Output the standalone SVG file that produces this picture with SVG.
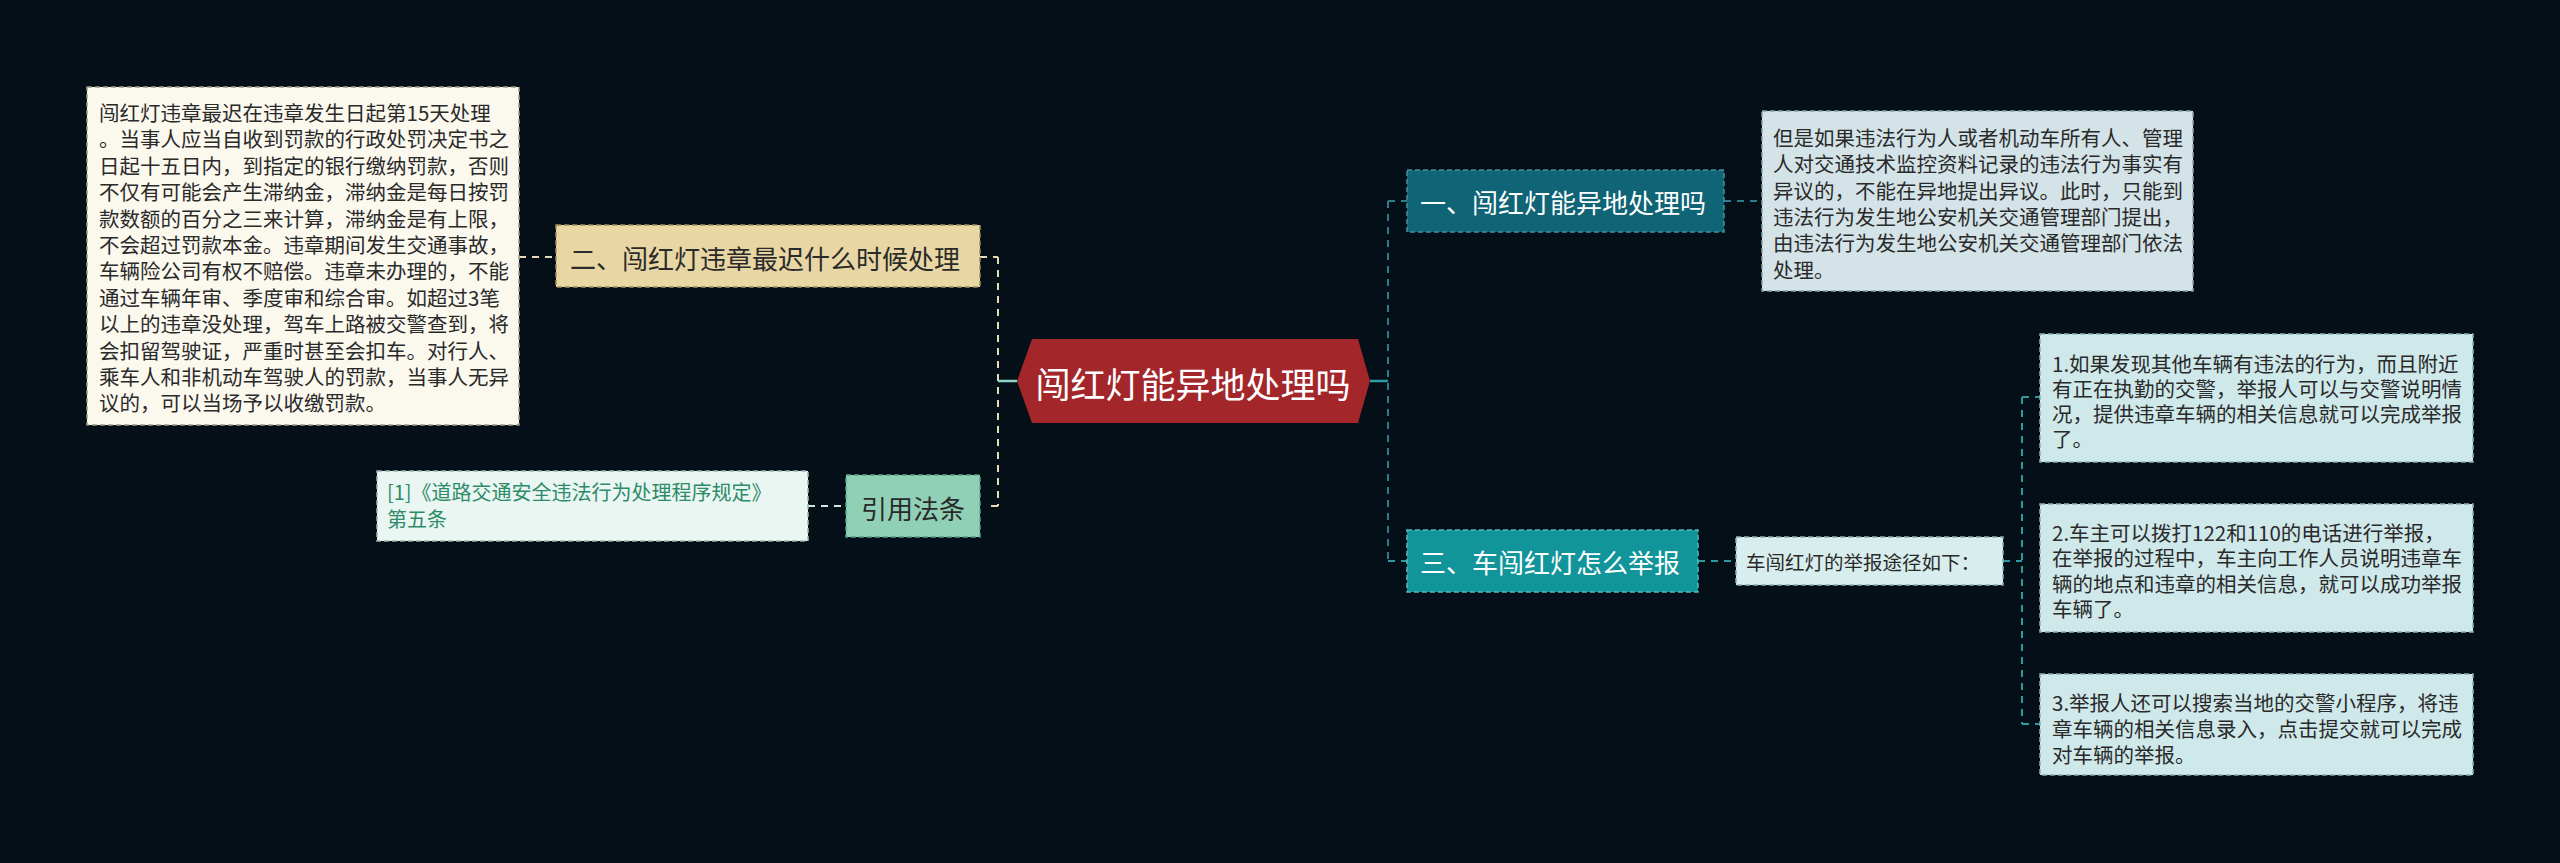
<svg xmlns="http://www.w3.org/2000/svg" width="2560" height="863" viewBox="0 0 2560 863">
<style>
text{font-family:"Noto Sans CJK SC","Noto Sans",sans-serif;dominant-baseline:central}
.box{stroke-dasharray:5 3;stroke-width:1.5}
.t20{font-size:20.5px;fill:#2a2a2a}
.t26{font-size:26px}
.con{fill:none;stroke-width:2;stroke-dasharray:7 6}
</style>
<rect width="2560" height="863" fill="#050f17"/>
<g id="connectors">
<path class="con" stroke="#e6dcb4" d="M998 257 V506 M980 257 H998 M998 506 H985 M519 257 H555"/>
<path class="con" stroke="#cde8de" d="M808 506 H846"/>
<path d="M1017 381 H998" stroke="#8fd6c6" stroke-width="2.5" fill="none"/>
<path d="M1370 381 H1388" stroke="#2a9ea6" stroke-width="2.5" fill="none"/>
<path class="con" stroke="#2b7d8c" d="M1388 201 V561 M1388 201 H1407 M1724 201 H1762"/>
<path class="con" stroke="#2a9a9e" d="M1388 561 H1407 M1698 561 H1736 M2003 561 H2022 M2022 397 V724 M2022 397 H2040 M2022 724 H2040"/>
</g>
<g id="center">
<polygon points="1017,381 1032,339 1358,339 1370,381 1358,423 1032,423" fill="#a3262b"/>
<text x="1193" y="382" font-size="35" fill="#ffffff" text-anchor="middle">闯红灯能异地处理吗</text>
</g>
<g id="n2">
<rect class="box" x="556" y="225" width="424" height="62" fill="#e8d6a4" stroke="#9e8c5c"/>
<text class="t26" x="570" y="257" fill="#2a2a2a">二、闯红灯违章最迟什么时候处理</text>
</g>
<g id="n2note">
<rect class="box" x="87" y="87" width="432" height="338" fill="#fbf8ee" stroke="#a09a88"/>
<g class="t20">
<text x="99" y="112">闯红灯违章最迟在违章发生日起第15天处理</text>
<text x="99" y="138.4">。当事人应当自收到罚款的行政处罚决定书之</text>
<text x="99" y="164.8">日起十五日内，到指定的银行缴纳罚款，否则</text>
<text x="99" y="191.2">不仅有可能会产生滞纳金，滞纳金是每日按罚</text>
<text x="99" y="217.6">款数额的百分之三来计算，滞纳金是有上限，</text>
<text x="99" y="244">不会超过罚款本金。违章期间发生交通事故，</text>
<text x="99" y="270.4">车辆险公司有权不赔偿。违章未办理的，不能</text>
<text x="99" y="296.8">通过车辆年审、季度审和综合审。如超过3笔</text>
<text x="99" y="323.2">以上的违章没处理，驾车上路被交警查到，将</text>
<text x="99" y="349.6">会扣留驾驶证，严重时甚至会扣车。对行人、</text>
<text x="99" y="376">乘车人和非机动车驾驶人的罚款，当事人无异</text>
<text x="99" y="402.4">议的，可以当场予以收缴罚款。</text>
</g>
</g>
<g id="ref">
<rect class="box" x="846" y="475" width="134" height="62" fill="#8fd0b6" stroke="#5a9e86"/>
<text class="t26" x="913" y="507" fill="#2a2a2a" text-anchor="middle">引用法条</text>
</g>
<g id="refnote">
<rect class="box" x="377" y="471" width="431" height="70" fill="#eaf6f1" stroke="#9ab8ac"/>
<text x="387" y="491" font-size="20" fill="#2e8b6a">[1]《道路交通安全违法行为处理程序规定》</text>
<text x="387" y="518" font-size="20" fill="#2e8b6a">第五条</text>
</g>
<g id="n1">
<rect class="box" x="1407" y="170" width="317" height="62" fill="#0f6475" stroke="#4a8e9c"/>
<text class="t26" x="1420" y="201" fill="#ffffff">一、闯红灯能异地处理吗</text>
</g>
<g id="n1note">
<rect class="box" x="1762" y="111" width="431" height="180" fill="#d3e3e7" stroke="#8aa2a8"/>
<g class="t20">
<text x="1773" y="137">但是如果违法行为人或者机动车所有人、管理</text>
<text x="1773" y="163.3">人对交通技术监控资料记录的违法行为事实有</text>
<text x="1773" y="189.6">异议的，不能在异地提出异议。此时，只能到</text>
<text x="1773" y="215.9">违法行为发生地公安机关交通管理部门提出，</text>
<text x="1773" y="242.2">由违法行为发生地公安机关交通管理部门依法</text>
<text x="1773" y="268.5">处理。</text>
</g>
</g>
<g id="n3">
<rect class="box" x="1407" y="530" width="291" height="62" fill="#12959a" stroke="#5ab8bb"/>
<text class="t26" x="1420" y="561" fill="#ffffff">三、车闯红灯怎么举报</text>
</g>
<g id="n3sub">
<rect class="box" x="1736" y="537" width="267" height="48" fill="#d8eded" stroke="#8ab0b0"/>
<text x="1746" y="561" font-size="19.5" fill="#2a2a2a">车闯红灯的举报途径如下：</text>
</g>
<g id="item1">
<rect class="box" x="2040" y="334" width="433" height="128" fill="#cfe8ea" stroke="#8ab0b2"/>
<g class="t20">
<text x="2052" y="363">1.如果发现其他车辆有违法的行为，而且附近</text>
<text x="2052" y="388">有正在执勤的交警，举报人可以与交警说明情</text>
<text x="2052" y="413">况，提供违章车辆的相关信息就可以完成举报</text>
<text x="2052" y="438">了。</text>
</g>
</g>
<g id="item2">
<rect class="box" x="2040" y="504" width="433" height="128" fill="#cfe8ea" stroke="#8ab0b2"/>
<g class="t20">
<text x="2052" y="532">2.车主可以拨打122和110的电话进行举报，</text>
<text x="2052" y="557.3">在举报的过程中，车主向工作人员说明违章车</text>
<text x="2052" y="582.6">辆的地点和违章的相关信息，就可以成功举报</text>
<text x="2052" y="607.9">车辆了。</text>
</g>
</g>
<g id="item3">
<rect class="box" x="2040" y="674" width="433" height="101" fill="#cfe8ea" stroke="#8ab0b2"/>
<g class="t20">
<text x="2052" y="702">3.举报人还可以搜索当地的交警小程序，将违</text>
<text x="2052" y="728">章车辆的相关信息录入，点击提交就可以完成</text>
<text x="2052" y="754">对车辆的举报。</text>
</g>
</g>
</svg>
